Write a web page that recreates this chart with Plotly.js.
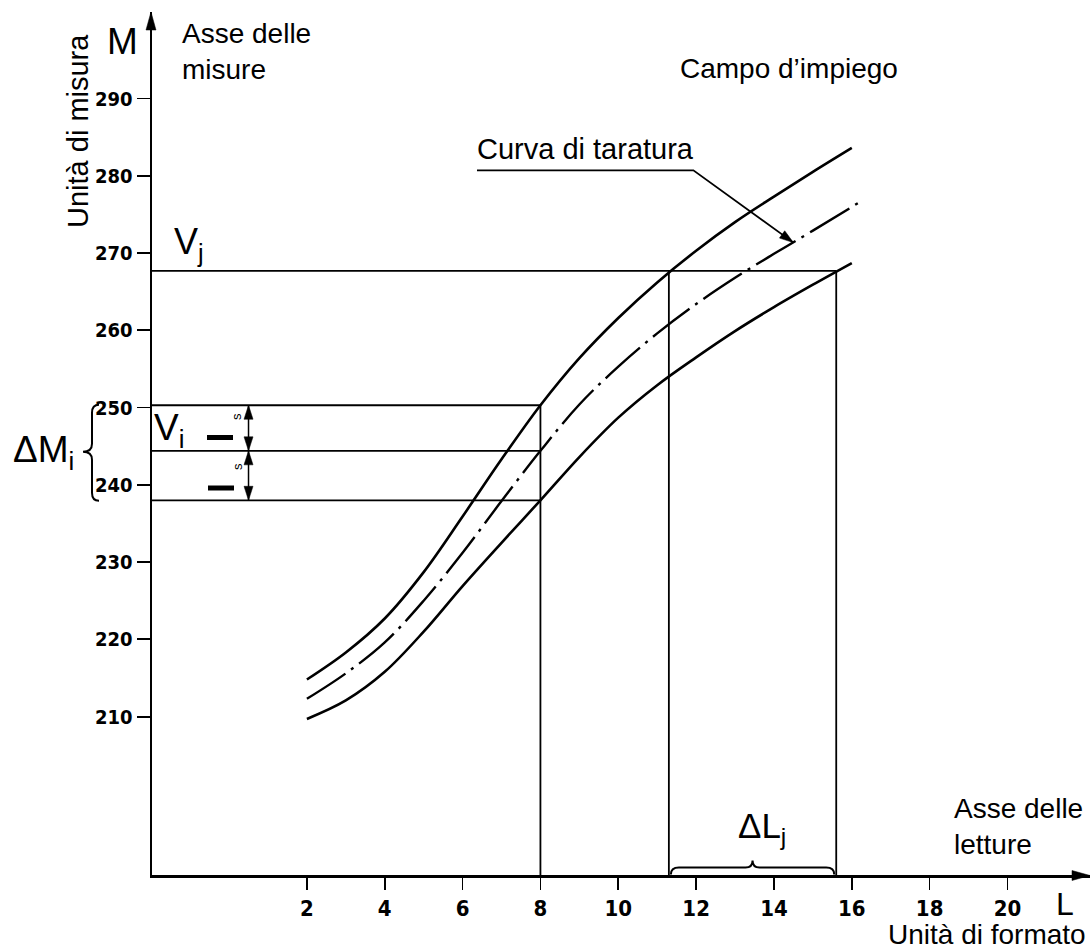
<!DOCTYPE html>
<html><head><meta charset="utf-8">
<script src="https://cdn.plot.ly/plotly-3.0.1.min.js"></script>
<style>html,body{margin:0;padding:0;background:#fff}#chart{width:1091px;height:952px}</style>
</head><body><div id="chart"></div>
<script>
// ---- data ----
const xTickVals = [2, 4, 6, 8, 10, 12, 14, 16, 18, 20];
const xTickText = ['2', '4', '6', '8', '10', '12', '14', '16', '18', '20'];
const yTickVals = [210, 220, 230, 240, 250, 260, 270, 280, 290];
const yTickText = ['210', '220', '230', '240', '250', '260', '270', '280', '290'];

const upperL = [2, 3, 4, 5, 6, 7, 8, 9, 10, 11, 12, 13, 14, 15, 16];
const upperM = [214.8, 218.3, 222.7, 228.7, 235.9, 243.3, 250.3, 256.4, 261.6, 266.2, 270.3, 274.0, 277.3, 280.5, 283.6];
const midL = [2, 3, 4, 5, 6, 7, 8, 9, 10, 11, 12, 13, 14, 15, 16.3];
const midM = [212.3, 215.6, 219.6, 225.0, 231.2, 237.9, 244.4, 250.4, 255.3, 259.6, 263.4, 266.8, 269.9, 272.9, 276.9];
const lowerL = [2, 3, 4, 5, 6, 7, 8, 9, 10, 11, 12, 13, 14, 15, 16];
const lowerM = [209.7, 212.1, 215.8, 221.0, 226.9, 232.5, 238.0, 243.6, 248.7, 252.9, 256.5, 259.9, 263.0, 265.9, 268.7];

const Li = 8, MiUp = 250.3, Vi = 244.4, MiLo = 238.0;
const Vj = 267.7, LjLo = 11.3, LjHi = 15.6;
const sArrowL = 0.5;
const leaderL = [6.37, 11.93, 14.5];
const leaderM = [280.7, 280.7, 271.35];

// ---- geometry helpers ----
const W = 1091, H = 952, ML = 152, MR = 1, MT = 12, MB = 77;
const xRange = [-1.98, 22.12], yRange = [189.5, 301.2];
const plotW = W - ML - MR, plotH = H - MT - MB;
const xPx = L => ML + (L - xRange[0]) / (xRange[1] - xRange[0]) * plotW;
const yPx = M => MT + (yRange[1] - M) / (yRange[1] - yRange[0]) * plotH;
const pX = px => (px - ML) / plotW;
const pY = py => (MT + plotH - py) / plotH;
const P = (x, y) => pX(x).toFixed(5) + ',' + pY(y).toFixed(5);

const FONT = 'Liberation Sans, Arial, sans-serif';
const TICKFONT = 'Liberation Sans Narrow, DejaVu Sans Condensed, Arial Narrow, sans-serif';

function tri(tx, ty, dx, dy, len, hw) {
  const n = Math.hypot(dx, dy); dx /= n; dy /= n;
  const bx = tx - dx * len, by = ty - dy * len;
  const nx = -dy, ny = dx;
  return {type: 'path', xref: 'paper', yref: 'paper', layer: 'above',
    path: 'M' + P(tx, ty) + ' L' + P(bx + nx * hw, by + ny * hw) + ' L' + P(bx - nx * hw, by - ny * hw) + ' Z',
    fillcolor: '#000', line: {color: '#000', width: 0.5}};
}
function dline(x0, y0, x1, y1, w) {
  return {type: 'line', xref: 'x', yref: 'y', x0, y0, x1, y1, line: {color: '#000', width: w || 1.8}};
}
function pline(x0, y0, x1, y1, w) {
  return {type: 'line', xref: 'paper', yref: 'paper', x0: pX(x0), y0: pY(y0), x1: pX(x1), y1: pY(y1), line: {color: '#000', width: w}};
}
function txt(text, x, y, size, xanchor, extra) {
  return Object.assign({xref: 'paper', yref: 'paper', x: pX(x), y: pY(y), text, showarrow: false,
    xanchor: xanchor || 'left', yanchor: 'middle', align: 'left',
    font: {family: FONT, size, color: '#000'}}, extra || {});
}

// ---- traces ----
const lineBase = {color: '#000', width: 2.6, shape: 'spline', smoothing: 1};
const traces = [
  {x: upperL, y: upperM, mode: 'lines', line: lineBase, hoverinfo: 'skip'},
  {x: midL, y: midM, mode: 'lines', line: Object.assign({}, lineBase, {width: 2.4, dash: '46px,7px,3px,7px'}), hoverinfo: 'skip'},
  {x: lowerL, y: lowerM, mode: 'lines', line: lineBase, hoverinfo: 'skip'}
];

// ---- shapes ----
const shapes = [];
shapes.push(dline(xRange[0], Vj, LjHi, Vj));
shapes.push(dline(LjLo, yRange[0], LjLo, Vj));
shapes.push(dline(LjHi, yRange[0], LjHi, Vj));
shapes.push(dline(xRange[0], MiUp, Li, MiUp));
shapes.push(dline(xRange[0], Vi, Li, Vi));
shapes.push(dline(xRange[0], MiLo, Li, MiLo));
shapes.push(dline(Li, yRange[0], Li, MiUp));
shapes.push(dline(sArrowL, MiUp, sArrowL, Vi, 1.5));
shapes.push(dline(sArrowL, Vi, sArrowL, MiLo, 1.5));
const sx = xPx(sArrowL);
shapes.push(tri(sx, yPx(MiUp), 0, -1, 14, 4.5));
shapes.push(tri(sx, yPx(Vi), 0, 1, 14, 4.5));
shapes.push(tri(sx, yPx(Vi), 0, -1, 14, 4.5));
shapes.push(tri(sx, yPx(MiLo), 0, 1, 14, 4.5));
shapes.push(pline(207, 437.5, 233, 437.5, 5));
shapes.push(pline(208, 488, 234, 488, 5));
shapes.push({type: 'path', xref: 'x', yref: 'y',
  path: 'M' + leaderL[0] + ',' + leaderM[0] + ' L' + leaderL[1] + ',' + leaderM[1] + ' L' + leaderL[2] + ',' + leaderM[2],
  line: {color: '#000', width: 1.8}, fillcolor: 'rgba(0,0,0,0)'});
shapes.push(tri(xPx(leaderL[2]), yPx(leaderM[2]), xPx(leaderL[2]) - xPx(leaderL[1]), yPx(leaderM[2]) - yPx(leaderM[1]), 14, 4.5));
shapes.push(tri(151, MT, 0, -1, 18, 5));
shapes.push(tri(W - 1, yPx(yRange[0]) + 0.5, 1, 0, 18, 5));
(function () {
  const xh = 99, xs = 92, xt = 83;
  const yt = yPx(MiUp) - 0.5, yb = yPx(MiLo) + 0.5, ym = yPx(Vi) + 1;
  const path = 'M' + P(xh, yt) + ' Q' + P(xs, yt) + ' ' + P(xs, yt + 8) + ' L' + P(xs, ym - 8) +
    ' Q' + P(xs, ym) + ' ' + P(xt, ym) + ' Q' + P(xs, ym) + ' ' + P(xs, ym + 8) +
    ' L' + P(xs, yb - 8) + ' Q' + P(xs, yb) + ' ' + P(xh, yb);
  shapes.push({type: 'path', xref: 'paper', yref: 'paper', path, line: {color: '#000', width: 2}, fillcolor: 'rgba(0,0,0,0)'});
})();
(function () {
  const xa = xPx(LjLo) + 2, xb = xPx(LjHi) - 2, xm = (xa + xb) / 2;
  const yb = yPx(yRange[0]) - 0.5, yf = yb - 7, yp = yb - 14;
  const path = 'M' + P(xa, yb) + ' Q' + P(xa, yf) + ' ' + P(xa + 8, yf) + ' L' + P(xm - 7, yf) +
    ' Q' + P(xm, yf) + ' ' + P(xm, yp) + ' Q' + P(xm, yf) + ' ' + P(xm + 7, yf) +
    ' L' + P(xb - 8, yf) + ' Q' + P(xb, yf) + ' ' + P(xb, yb);
  shapes.push({type: 'path', xref: 'paper', yref: 'paper', path, line: {color: '#000', width: 2}, fillcolor: 'rgba(0,0,0,0)'});
})();

// ---- annotations ----
const annotations = [
  txt('M', 122, 41.5, 37, 'center'),
  txt('Unità di misura', 78, 131, 29, 'center', {textangle: -90}),
  txt('Asse delle<br>misure', 180, 52, 28),
  txt('Campo d\u2019impiego', 678, 68, 28),
  txt('Curva di taratura', 475, 149, 29),
  txt('V<sub>j</sub>', 172, 244, 36),
  txt('V<sub>i</sub>', 152, 430, 37),
  txt('\u0394M<sub>i</sub>', 11, 452, 37),
  txt('\u0394L<sub>j</sub>', 736, 828, 35),
  txt('Asse delle<br>letture', 952, 826, 28),
  txt('L', 1054, 903.5, 32),
  txt('Unità di formato', 1088, 934, 28, 'right'),
  txt('s', 236, 417, 13, 'center', {textangle: -90}),
  txt('s', 237, 467, 13, 'center', {textangle: -90})
];

const axisBase = {showgrid: false, zeroline: false, showline: true, linecolor: '#000', linewidth: 2.5,
  ticks: 'outside', tickcolor: '#000', tickmode: 'array', fixedrange: true};

const layout = {
  width: W, height: H,
  margin: {l: ML, r: MR, t: MT, b: MB, pad: 0},
  paper_bgcolor: '#fff', plot_bgcolor: '#fff',
  showlegend: false,
  xaxis: Object.assign({}, axisBase, {range: xRange, tickvals: xTickVals, ticktext: xTickText,
    ticklen: 12, tickwidth: 1.6, tickfont: {family: TICKFONT, size: 22, weight: 700, color: '#000'}}),
  yaxis: Object.assign({}, axisBase, {range: yRange, tickvals: yTickVals, ticktext: yTickText,
    ticklen: 13, tickwidth: 1.8, tickfont: {family: TICKFONT, size: 20, weight: 700, color: '#000'}}),
  shapes, annotations
};

Plotly.newPlot('chart', traces, layout, {displayModeBar: false, staticPlot: true});
</script>
</body></html>
